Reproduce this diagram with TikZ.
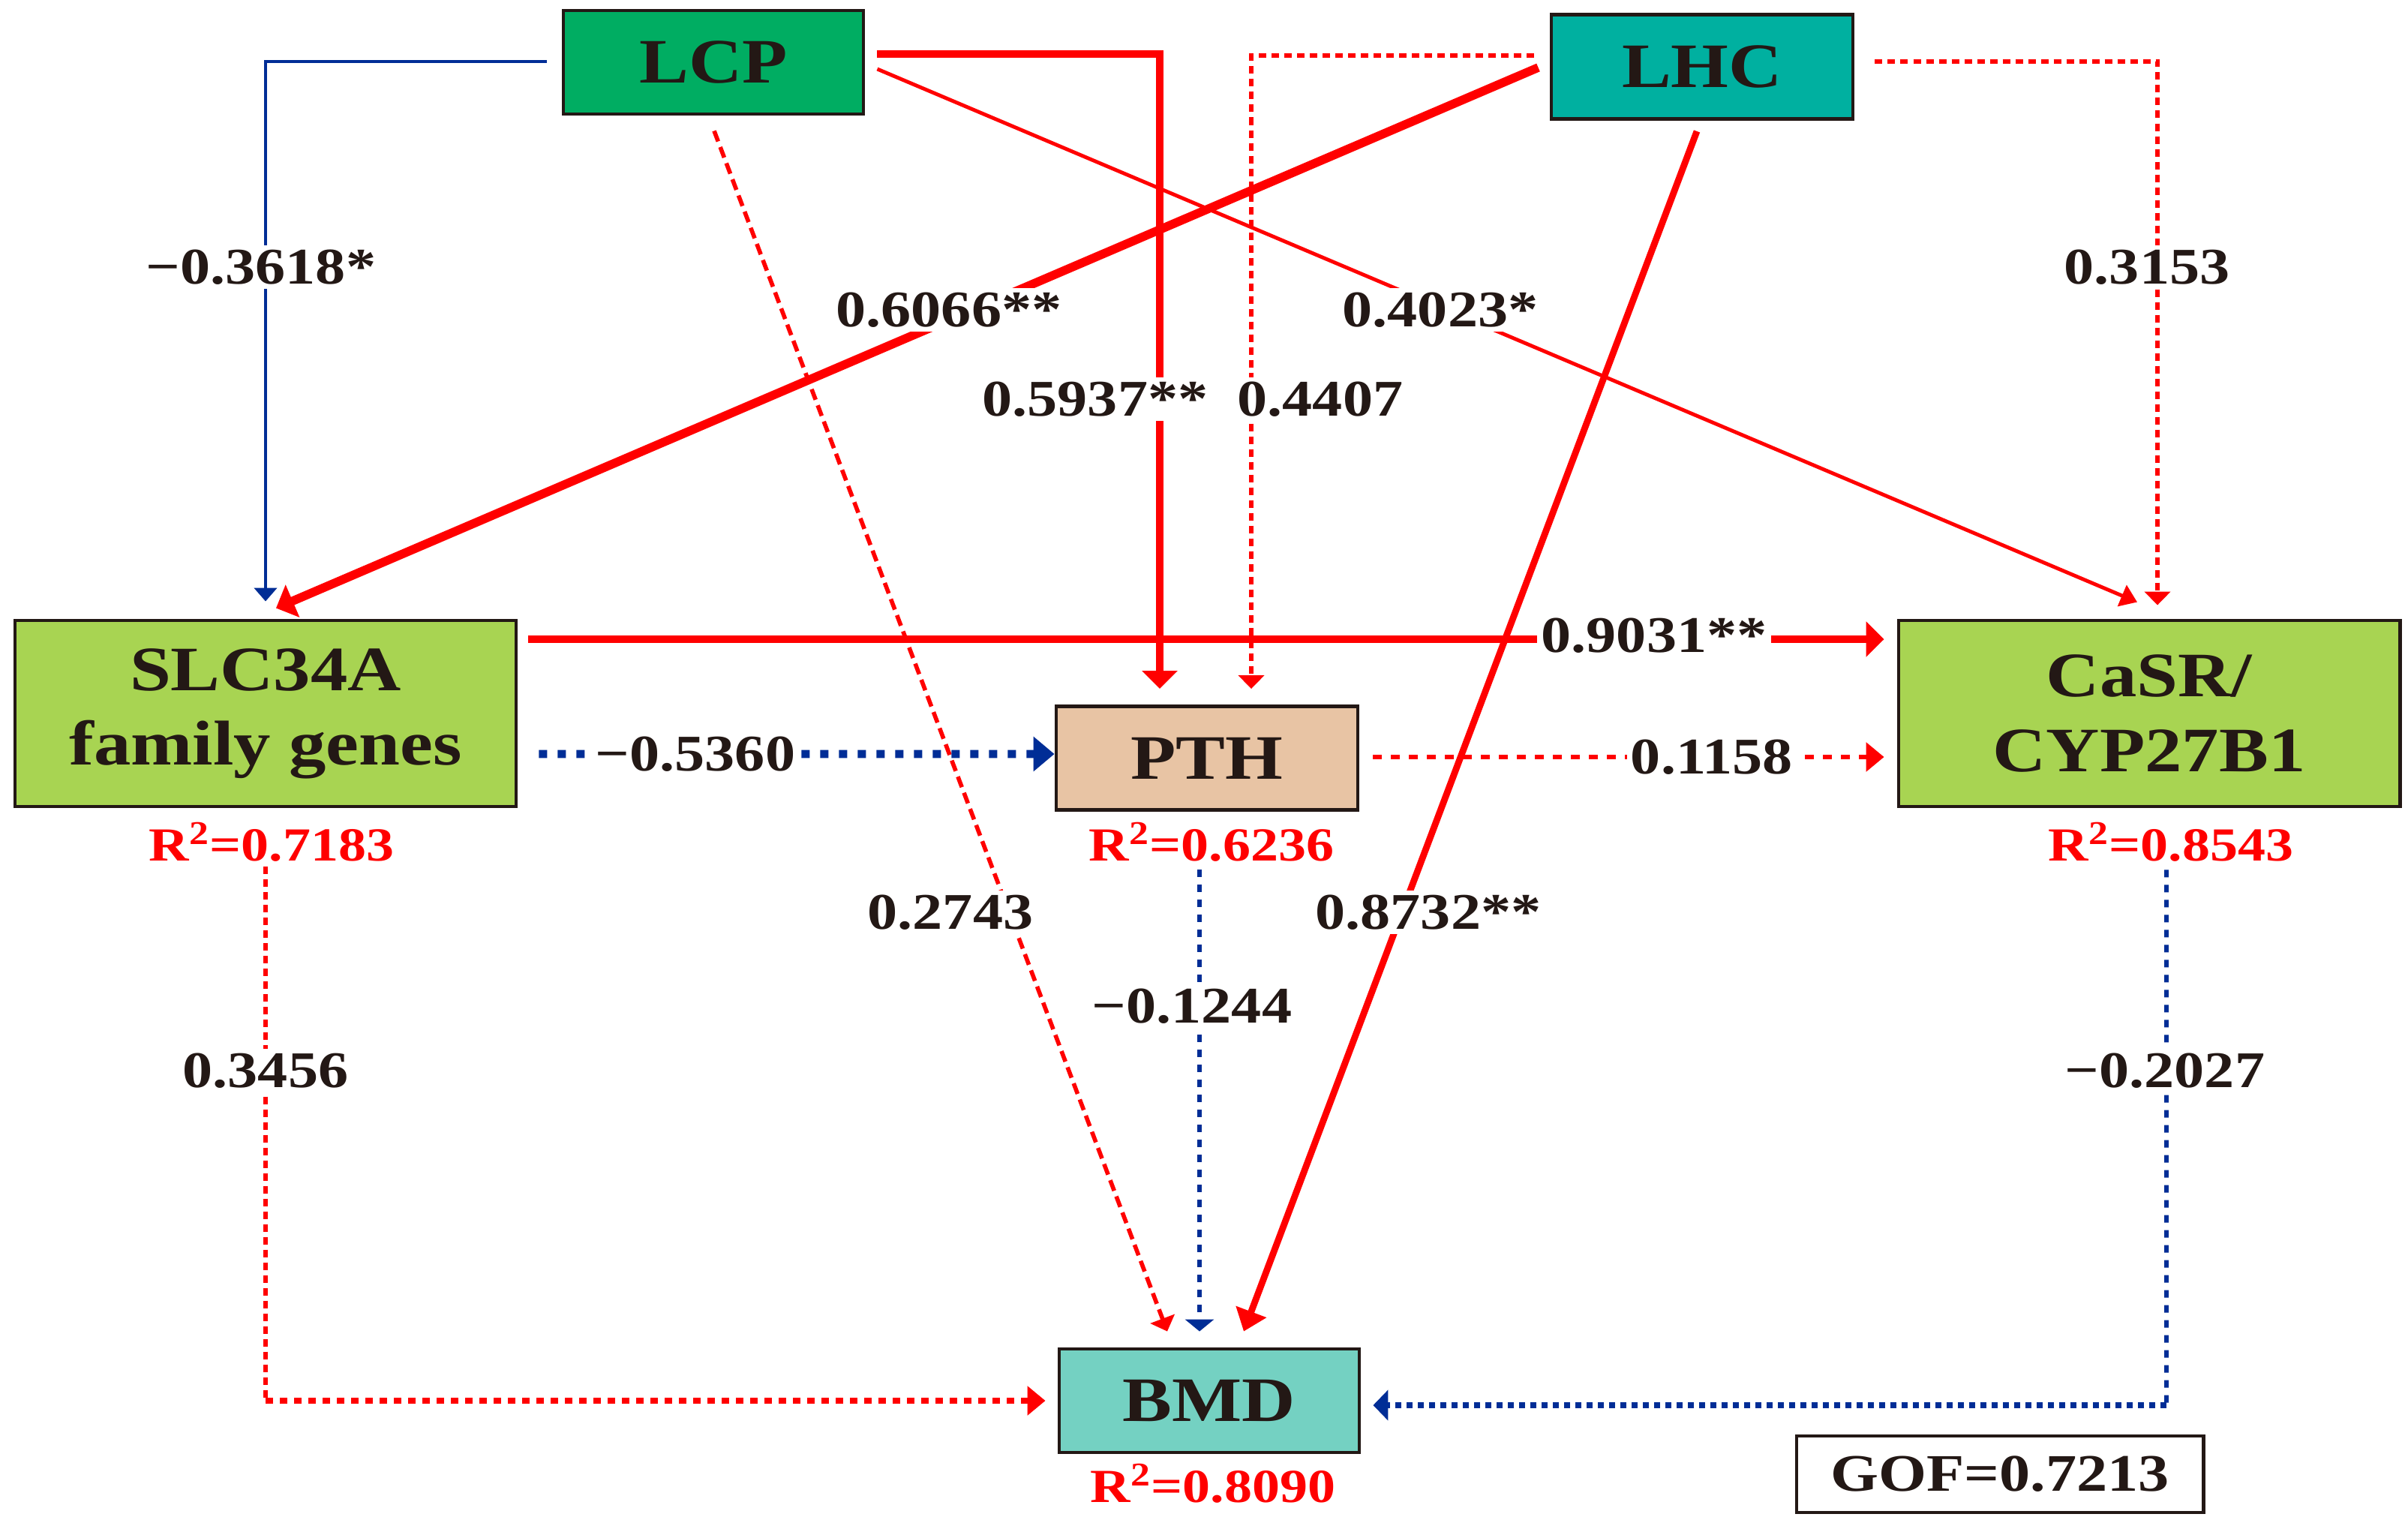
\documentclass[tikz,border=0pt]{standalone}
\usepackage{fontspec}
\setmainfont{Liberation Serif}[FakeStretch=1.17]
\usetikzlibrary{arrows.meta}

\definecolor{boxline}{RGB}{35,24,21}
\definecolor{textdark}{RGB}{35,24,21}
\definecolor{lcpgreen}{RGB}{0,173,98}
\definecolor{lhcteal}{RGB}{0,176,160}
\definecolor{genegreen}{RGB}{168,212,82}
\definecolor{pthpeach}{RGB}{232,196,164}
\definecolor{bmdteal}{RGB}{116,209,194}
\definecolor{negblue}{RGB}{0,45,150}
\definecolor{posred}{RGB}{255,0,0}

\newcommand{\boxfont}{\fontsize{24}{28.2}\selectfont\bfseries}
\newcommand{\coeffont}{\fontsize{19.5}{22}\selectfont\bfseries}
\newcommand{\rsqfont}{\fontsize{18}{21}\selectfont\bfseries}

\begin{document}
\begin{tikzpicture}[
    varbox/.style={draw=boxline, line width=1.4pt, inner sep=0pt, align=center, text=textdark, font=\boxfont},
    coef/.style={fill=white, inner sep=1.5pt, text=textdark, font=\coeffont},
    rsq/.style={text=posred, font=\rsqfont},
    posthick/.style={posred, line width=3.1pt, -{Triangle[length=0.24cm,width=0.46cm]}},
    posmid/.style={posred, line width=2.5pt, -{Triangle[length=0.28cm,width=0.42cm]}},
    posthin/.style={posred, line width=1.4pt, -{Triangle[length=0.22cm,width=0.3cm]}},
    posdash/.style={posred, line width=1.6pt, dash pattern=on 0.1cm off 0.07cm, -{Triangle[length=0.18cm,width=0.34cm]}},
    posdot/.style={posred, line width=2.4pt, dash pattern=on 0.1cm off 0.09cm, -{Triangle[length=0.24cm,width=0.38cm]}},
    negthin/.style={negblue, line width=1.3pt, -{Triangle[length=0.18cm,width=0.3cm]}},
    negdash/.style={negblue, line width=1.6pt, dash pattern=on 0.1cm off 0.1cm, -{Triangle[length=0.16cm,width=0.38cm]}},
    negdot/.style={negblue, line width=3pt, dash pattern=on 0.11cm off 0.14cm, -{Triangle[length=0.28cm,width=0.45cm]}},
  ]
  \fill[white] (0,0) rectangle (32.10,-20.29);
  \useasboundingbox (0,0) rectangle (32.10,-20.29);

  % boxes
  \node[varbox, fill=lcpgreen, minimum width=4.00cm, minimum height=1.38cm] (lcp) at (9.51,-0.83) {LCP};
  \node[varbox, fill=lhcteal, minimum width=4.02cm, minimum height=1.39cm] (lhc) at (22.69,-0.89) {LHC};
  \node[varbox, fill=genegreen, minimum width=6.68cm, minimum height=2.48cm] (slc) at (3.54,-9.51) {SLC34A\\family genes};
  \node[varbox, fill=pthpeach, minimum width=4.02cm, minimum height=1.38cm] (pth) at (16.09,-10.105) {PTH};
  \node[varbox, fill=genegreen, minimum width=6.68cm, minimum height=2.48cm] (casr) at (28.65,-9.51) {CaSR/\\CYP27B1};
  \node[varbox, fill=bmdteal, minimum width=4.00cm, minimum height=1.38cm] (bmd) at (16.12,-18.67) {BMD};

  \node[rsq] (rslc) at (3.62,-11.22) {R\textsuperscript{2}=0.7183};
  \node[rsq] (rpth) at (16.15,-11.22) {R\textsuperscript{2}=0.6236};
  \node[rsq] (rcasr) at (28.94,-11.22) {R\textsuperscript{2}=0.8543};
  \node[rsq] (rbmd) at (16.17,-19.77) {R\textsuperscript{2}=0.8090};

  \node[draw=boxline, line width=1.4pt, minimum width=5.42cm, minimum height=1.02cm, text=textdark, font=\fontsize{20}{24}\selectfont\bfseries] (gof) at (26.66,-19.65) {GOF=0.7213};

  % paths from LCP
  \draw[negthin] ([shift={(-0.20,0.01)}]lcp.west) -| ([yshift=0.23cm]slc.north);
  \draw[posthick] ([shift={(0.16,0.11)}]lcp.east) -| ([shift={(-0.63,0.21)}]pth.north);
  \draw[posthin] ([shift={(0.16,-0.09)}]lcp.east) -- ([shift={(-0.16,0.22)}]casr.north);
  \draw[posdash, dash pattern=on 0.15cm off 0.08cm] ([shift={(0.01,-0.20)}]lcp.south) -- ([shift={(-0.56,0.21)}]bmd.north);

  % paths from LHC
  \draw[posthick, line width=3.3pt] ([shift={(-0.15,-0.01)}]lhc.west) -- ([shift={(0.14,0.14)}]slc.north);
  \draw[posdash] ([shift={(-0.21,0.15)}]lhc.west) -| ([shift={(0.59,0.21)}]pth.north);
  \draw[posmid] ([shift={(-0.07,-0.14)}]lhc.south) -- ([shift={(0.46,0.21)}]bmd.north);
  \draw[posdash] ([shift={(0.27,0.07)}]lhc.east) -| ([shift={(0.11,0.18)}]casr.north);

  % paths between the mediators
  \draw[posthick] ([shift={(0.14,0.99)}]slc.east) -- ([shift={(-0.17,0.99)}]casr.west);
  \draw[negdot] ([shift={(0.28,-0.54)}]slc.east) -- ([yshift=0.055cm]pth.west);
  \draw[posdot, line width=1.8pt, dash pattern=on 0.12cm off 0.12cm] ([shift={(0.18,0.015)}]pth.east) -- ([shift={(-0.17,-0.58)}]casr.west);

  % paths into BMD
  \coordinate (slccorner) at (3.54,-18.67);
  \draw[posdash, -] ([yshift=-0.78cm]slc.south) -- (slccorner);
  \draw[posdot] (slccorner) -- ([xshift=-0.16cm]bmd.west);
  \draw[negdash] ([shift={(-0.10,-0.77)}]pth.south) -- ([shift={(-0.13,0.21)}]bmd.north);
  \coordinate (casrcorner) at (28.88,-18.73);
  \draw[negdash, -] ([shift={(0.23,-0.82)}]casr.south) -- (casrcorner);
  \draw[negdot, line width=2.4pt, dash pattern=on 0.08cm off 0.07cm, -{Triangle[length=0.2cm,width=0.4cm]}] (casrcorner) -- ([shift={(0.16,-0.06)}]bmd.east);

  % path coefficients
  \node[coef] at (3.48,-3.56) {−0.3618*};
  \node[coef] at (12.65,-4.13) {0.6066**};
  \node[coef] at (14.60,-5.32) {0.5937**};
  \node[coef] at (17.60,-5.32) {0.4407};
  \node[coef] at (19.20,-4.13) {0.4023*};
  \node[coef] at (28.62,-3.56) {0.3153};
  \node[coef] at (22.05,-8.47) {0.9031**};
  \node[coef] at (9.27,-10.05) {−0.5360};
  \node[coef] at (22.82,-10.09) {0.1158};
  \node[coef] at (12.67,-12.16) {0.2743};
  \node[coef] at (19.04,-12.16) {0.8732**};
  \node[coef] at (15.89,-13.41) {−0.1244};
  \node[coef] at (3.54,-14.27) {0.3456};
  \node[coef] at (28.86,-14.27) {−0.2027};
\end{tikzpicture}
\end{document}
